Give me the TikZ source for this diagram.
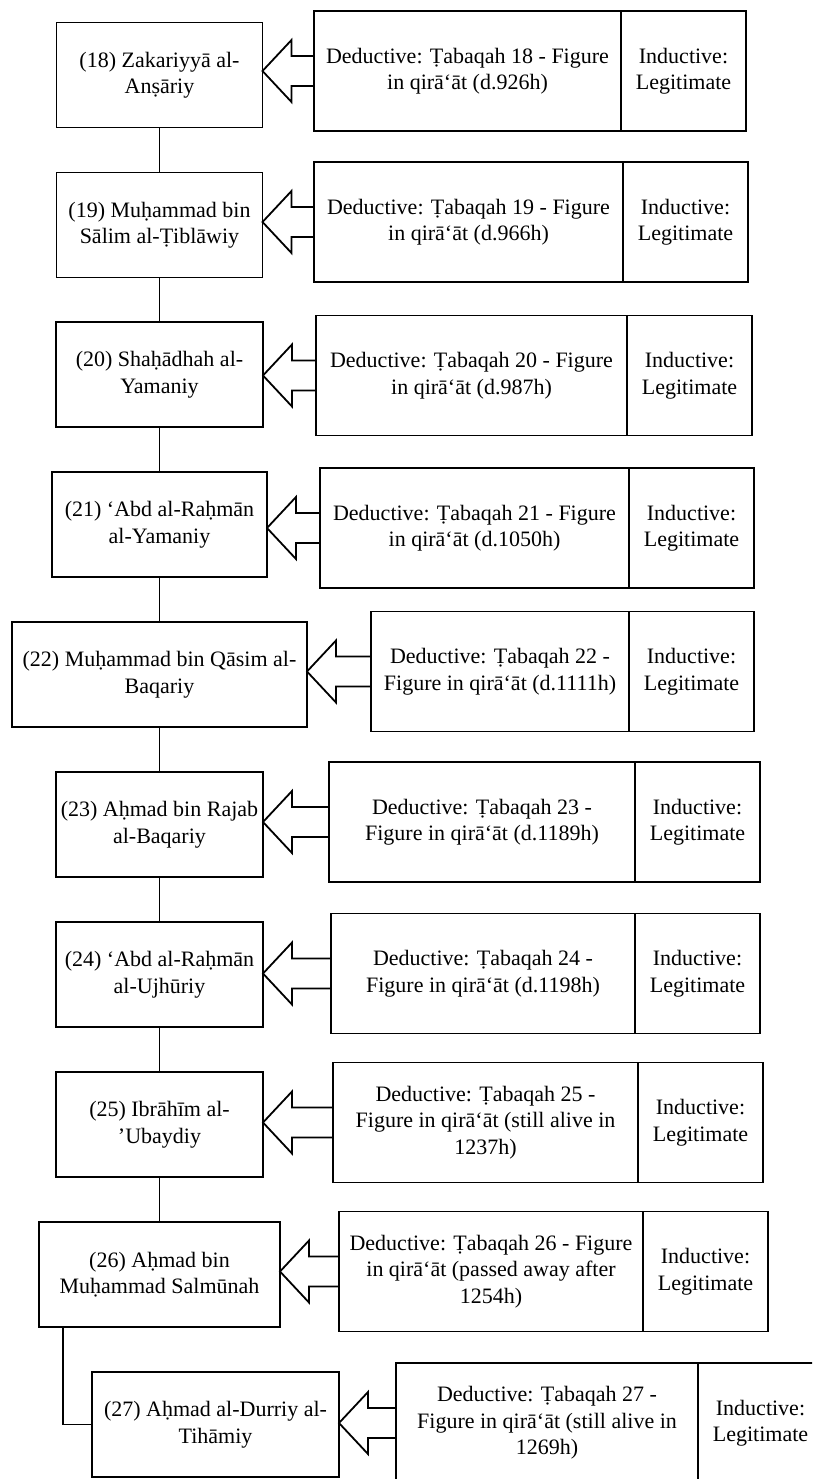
\documentclass[tikz,border=0pt]{standalone}
\usepackage{fontspec}
\setmainfont{Liberation Serif}
\usepackage{tikz}
\usetikzlibrary{positioning,calc}

\tikzset{
	namebox/.style={draw,line width=1.8pt,minimum height=105pt,inner sep=0pt,outer sep=0pt,
		align=center,font=\fontsize{22}{26.5}\selectfont},
	dedbox/.style={draw,line width=1.8pt,minimum height=120pt,inner sep=0pt,outer sep=0pt,
		align=center,font=\fontsize{22}{26.5}\selectfont},
	indbox/.style={dedbox,minimum width=125pt},
	blockarrow/.style={line width=1.8pt,to path={(\tikztostart) ++(0,-15)
		-- ($(\tikztotarget |- \tikztostart)+(29,-15)$) -- ++(0,-16)
		-- (\tikztotarget |- \tikztostart)
		-- ($(\tikztotarget |- \tikztostart)+(29,31)$) -- ++(0,-16)
		-- ($(\tikztostart)+(0,15)$)}}
}

\begin{document}
\begin{tikzpicture}[x=1pt,y=-1pt]
	\useasboundingbox (0,0) rectangle (812,1479);
	\clip (0,0) rectangle (812,1479);
	
	% names
	\node[namebox,minimum width=206pt] (n18) at (159.5,75) {(18) Zakariyyā al-\\Anṣāriy};
	\node[namebox,minimum width=206pt] (n19) at (159.5,225) {(19) Muḥammad bin\\Sālim al-Ṭiblāwiy};
	\node[namebox,minimum width=207pt] (n20) at (159.5,374.5) {(20) Shaḥādhah al-\\Yamaniy};
	\node[namebox,minimum width=215pt] (n21) at (159.5,524.5) {(21) ‘Abd al-Raḥmān\\al-Yamaniy};
	\node[namebox,minimum width=295pt] (n22) at (159.5,674.5) {(22) Muḥammad bin Qāsim al-\\Baqariy};
	\node[namebox,minimum width=207pt] (n23) at (159.5,824.5) {(23) Aḥmad bin Rajab\\al-Baqariy};
	\node[namebox,minimum width=207pt] (n24) at (159.5,974.5) {(24) ‘Abd al-Raḥmān\\al-Ujhūriy};
	\node[namebox,minimum width=207pt] (n25) at (159.5,1124.5) {(25) Ibrāhīm al-\\’Ubaydiy};
	\node[namebox,minimum width=241pt] (n26) at (159.5,1274.5) {(26) Aḥmad bin\\Muḥammad Salmūnah};
	\node[namebox,minimum width=247pt] (n27) at (215.5,1424.5) {(27) Aḥmad al-Durriy al-\\Tihāmiy};
	
	% deductive / inductive
	\node[dedbox,minimum width=307pt] (d18) at (467.5,71) {Deductive: Ṭabaqah 18 - Figure\\in qirā‘āt (d.926h)};
	\node[indbox,right=0pt of d18] (i18) {Inductive:\\Legitimate};
	\node[dedbox,minimum width=309pt] (d19) at (468.5,222) {Deductive: Ṭabaqah 19 - Figure\\in qirā‘āt (d.966h)};
	\node[indbox,right=0pt of d19] (i19) {Inductive:\\Legitimate};
	\node[dedbox,minimum width=311pt] (d20) at (471.5,375.5) {Deductive: Ṭabaqah 20 - Figure\\in qirā‘āt (d.987h)};
	\node[indbox,right=0pt of d20] (i20) {Inductive:\\Legitimate};
	\node[dedbox,minimum width=309pt] (d21) at (474.5,528) {Deductive: Ṭabaqah 21 - Figure\\in qirā‘āt (d.1050h)};
	\node[indbox,right=0pt of d21] (i21) {Inductive:\\Legitimate};
	\node[dedbox,minimum width=258pt] (d22) at (500,671.5) {Deductive: Ṭabaqah 22 -\\Figure in qirā‘āt (d.1111h)};
	\node[indbox,right=0pt of d22] (i22) {Inductive:\\Legitimate};
	\node[dedbox,minimum width=306pt] (d23) at (482,822) {Deductive: Ṭabaqah 23 -\\Figure in qirā‘āt (d.1189h)};
	\node[indbox,right=0pt of d23] (i23) {Inductive:\\Legitimate};
	\node[dedbox,minimum width=304pt] (d24) at (483,973.5) {Deductive: Ṭabaqah 24 -\\Figure in qirā‘āt (d.1198h)};
	\node[indbox,right=0pt of d24] (i24) {Inductive:\\Legitimate};
	\node[dedbox,minimum width=305pt] (d25) at (485.5,1122.5) {Deductive: Ṭabaqah 25 -\\Figure in qirā‘āt (still alive in\\1237h)};
	\node[indbox,right=0pt of d25] (i25) {Inductive:\\Legitimate};
	\node[dedbox,minimum width=304pt] (d26) at (491,1271.5) {Deductive: Ṭabaqah 26 - Figure\\in qirā‘āt (passed away after\\1254h)};
	\node[indbox,right=0pt of d26] (i26) {Inductive:\\Legitimate};
	\node[dedbox,minimum width=302pt] (d27) at (547,1423) {Deductive: Ṭabaqah 27 -\\Figure in qirā‘āt (still alive in\\1269h)};
	\node[indbox,right=0pt of d27] (i27) {Inductive:\\Legitimate};
	
	% arrows
	\draw[blockarrow] (d18.west) to (n18.east);
	\draw[blockarrow] (d19.west) to (n19.east);
	\draw[blockarrow] (d20.west) to (n20.east);
	\draw[blockarrow] (d21.west) to (n21.east);
	\draw[blockarrow] (d22.west) to (n22.east);
	\draw[blockarrow] (d23.west) to (n23.east);
	\draw[blockarrow] (d24.west) to (n24.east);
	\draw[blockarrow] (d25.west) to (n25.east);
	\draw[blockarrow] (d26.west) to (n26.east);
	\draw[blockarrow] (d27.west) to (n27.east);
	
	% chain
	\begin{scope}[line width=1.8pt]
		\draw (n18) -- (n19);
		\draw (n19) -- (n20);
		\draw (n20) -- (n21);
		\draw (n21) -- (n22);
		\draw (n22) -- (n23);
		\draw (n23) -- (n24);
		\draw (n24) -- (n25);
		\draw (n25) -- (n26);
		\draw ([xshift=-96.5pt]n26.south) |- (n27.west);
	\end{scope}
\end{tikzpicture}
\end{document}
